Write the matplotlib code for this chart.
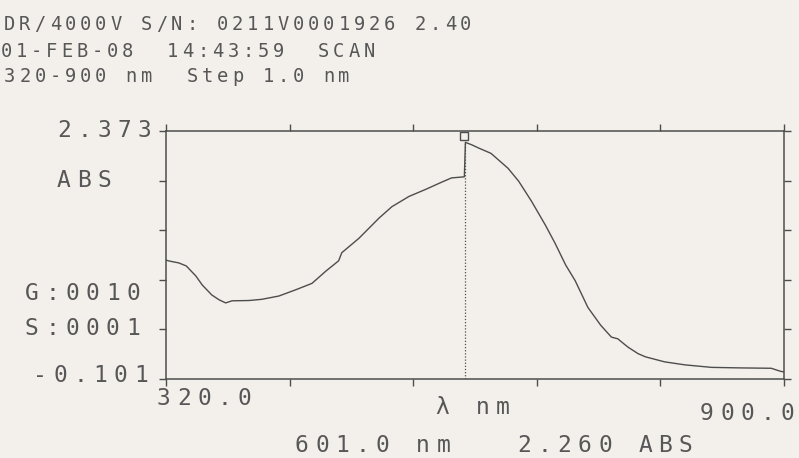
import matplotlib
matplotlib.use("Agg")
import matplotlib.pyplot as plt
from matplotlib.transforms import offset_copy
import numpy as np

# scan data (nm, ABS)
wavelength = [320, 323, 332, 339, 348, 354, 363, 370, 376, 382, 398, 410, 426,
              442, 457, 470, 482, 485, 501, 520, 532, 548, 564, 579, 588, 600,
              601, 607, 613, 625, 641, 651, 663, 676, 685, 695, 704, 716, 728,
              738, 744, 751, 754, 763, 770, 788, 807, 832, 857, 888, 897, 900]
absorbance = [1.085, 1.076, 1.057, 1.027, 0.927, 0.837, 0.737, 0.688, 0.658,
              0.679, 0.682, 0.694, 0.727, 0.790, 0.853, 0.975, 1.078, 1.159,
              1.302, 1.505, 1.618, 1.720, 1.792, 1.864, 1.905, 1.916,
              2.260, 2.235, 2.205, 2.150, 2.001, 1.872, 1.673, 1.435, 1.256,
              1.038, 0.880, 0.612, 0.435, 0.317, 0.300, 0.239, 0.214, 0.152,
              0.120, 0.070, 0.040, 0.015, 0.010, 0.006, -0.025, -0.030]

wl_min, wl_max = 320.0, 900.0
abs_min, abs_max = -0.101, 2.373
cursor_wl, cursor_abs = 601.0, 2.260

header = ["DR/4000V S/N: 0211V0001926 2.40",
          "01-FEB-08  14:43:59  SCAN",
          "320-900 nm  Step 1.0 nm"]

W, H = 799, 458
PAPER = "#f3f0ec"
INK = "#575757"
LINE = "#4d4d4d"

fig = plt.figure(figsize=(W / 100, H / 100), dpi=100, facecolor=PAPER)

# plot frame in pixel coords of the printout
left, right, top, bottom = 166, 784, 131, 379
ax = fig.add_axes([left / W, 1 - bottom / H, (right - left) / W, (bottom - top) / H])
ax.set_facecolor(PAPER)

ax.plot(wavelength, absorbance, color=LINE, lw=1.0)
ax.vlines(cursor_wl, abs_min, cursor_abs, colors=LINE, linestyles=(0, (1, 1.5)), lw=0.9)
mk = offset_copy(ax.transData, fig=fig, x=-1, y=6, units="dots")
ax.plot([cursor_wl], [cursor_abs], marker="s", ms=5.5, mfc="none", mec=LINE,
        mew=1.0, transform=mk, clip_on=False)

ax.set_xlim(wl_min, wl_max)
ax.set_ylim(abs_min, abs_max)
ax.set_xticks(np.linspace(wl_min, wl_max, 6))
ax.set_yticks(np.linspace(abs_min, abs_max, 6))
ax.tick_params(direction="out", length=5, width=1.0, color=LINE,
               left=True, right=True, top=True, bottom=True,
               labelleft=False, labelbottom=False)
for sp in ax.spines.values():
    sp.set_color(LINE)
    sp.set_linewidth(1.1)


def put(s, x, y, size, pitch):
    # fixed-pitch printer text, one character per cell
    for i, ch in enumerate(s):
        if ch == " ":
            continue
        fig.text((x + i * pitch) / W, 1 - y / H, ch, fontsize=size,
                 family="DejaVu Sans Mono", color=INK, ha="left", va="baseline")


put(header[0], 4, 30, 13.5, 15.2)
put(header[1], 1, 57, 13.5, 15.1)
put(header[2], 4, 82, 13.5, 15.2)

big, pitch = 16.5, 20.2
put(f"{abs_max:.3f}", 57, 137, big, pitch)
put("ABS", 57, 187, big, pitch)
put("G:0010", 25, 300, big, pitch)
put("S:0001", 25, 335, big, pitch)
put(f"{abs_min:.3f}", 33, 382, big, pitch)
put(f"{wl_min:.1f}", 157, 405, big, pitch)
put("λ nm", 435, 414, big, pitch)
put(f"{wl_max:.1f}", 700, 420, big, pitch)
put(f"{cursor_wl:.1f} nm   {cursor_abs:.3f} ABS", 295, 452, big, pitch)

fig.savefig("out.png", dpi=100, facecolor=PAPER)
